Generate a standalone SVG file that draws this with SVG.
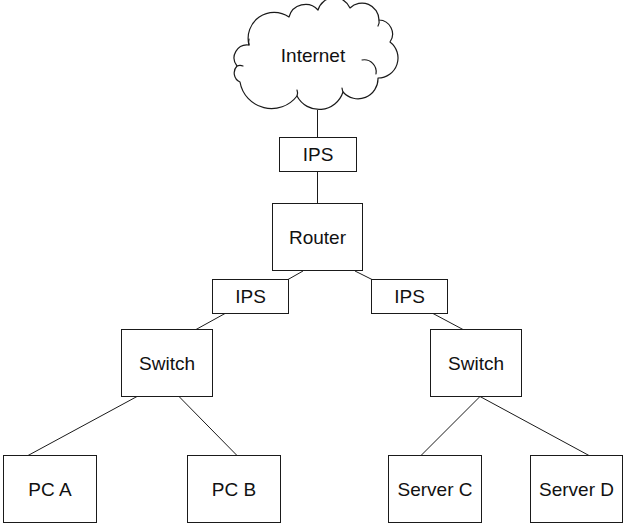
<svg xmlns="http://www.w3.org/2000/svg" width="623" height="523" viewBox="0 0 623 523">
  <style>
    .box { fill: #ffffff; stroke: #1a1a1a; stroke-width: 1; }
    .cloud { fill: #ffffff; stroke: #1a1a1a; stroke-width: 1.2; stroke-linejoin: round; }
    .curl { fill: none; stroke: #1a1a1a; stroke-width: 1.2; stroke-linecap: round; }
    .link { stroke: #1a1a1a; stroke-width: 1; fill: none; }
    .label { font-family: "Liberation Sans", Arial, sans-serif; font-size: 19px; fill: #111111; text-anchor: middle; }
  </style>
  <rect width="623" height="523" fill="#ffffff"/>

  <!-- connectors -->
  <g id="connectors">
    <line class="link" x1="317.5" y1="110" x2="317.5" y2="137.5"/>
    <line class="link" x1="317.5" y1="171.5" x2="317.5" y2="203.5"/>
    <line class="link" x1="303" y1="271" x2="288" y2="279.5"/>
    <line class="link" x1="355" y1="271" x2="372" y2="279.5"/>
    <line class="link" x1="225" y1="313.5" x2="196" y2="329.5"/>
    <line class="link" x1="433" y1="313.5" x2="463" y2="329.5"/>
    <line class="link" x1="137" y1="396.5" x2="28" y2="455.5"/>
    <line class="link" x1="179" y1="396.5" x2="237" y2="455.5"/>
    <line class="link" x1="480" y1="396.5" x2="421" y2="455.5"/>
    <line class="link" x1="480" y1="396.5" x2="589" y2="455.5"/>
  </g>

  <!-- cloud -->
  <g id="internet">
    <path class="cloud" d="M249,45 A26,26 0 0 1 289,17 A17,17 0 0 1 318,10 A17,17 0 0 1 350,8 A17,17 0 0 1 379,20 A14,14 0 0 1 390,42 A20,20 0 0 1 378,78 A20,20 0 0 1 343,92 A25,25 0 0 1 297,96 A32,32 0 0 1 240,82 A10,10 0 0 1 237,66 A13,13 0 0 1 249,45 Z"/>
    <path class="curl" d="M362,60 A12,12 0 0 1 376,74"/>
    <path class="curl" d="M343,92 A20,20 0 0 1 342,88"/>
    <path class="curl" d="M297,96 A8,8 0 0 0 297,90"/>
    <path class="curl" d="M237,66 A8,8 0 0 1 243,66"/>
    <path class="curl" d="M249,45 A12,12 0 0 1 249,39"/>
    <path class="curl" d="M379,20 A8,8 0 0 1 378,26"/>
    <text class="label" x="313" y="62">Internet</text>
  </g>

  <g id="ips-top">
    <rect class="box" x="279.5" y="137.5" width="77" height="34"/>
    <text class="label" x="318" y="161">IPS</text>
  </g>

  <g id="router">
    <rect class="box" x="272.5" y="203.5" width="90" height="67"/>
    <text class="label" x="317.5" y="244">Router</text>
  </g>

  <g id="ips-left">
    <rect class="box" x="212.5" y="279.5" width="76" height="34"/>
    <text class="label" x="250.5" y="303">IPS</text>
  </g>

  <g id="ips-right">
    <rect class="box" x="371.5" y="279.5" width="76" height="34"/>
    <text class="label" x="409.5" y="303">IPS</text>
  </g>

  <g id="switch-left">
    <rect class="box" x="121.5" y="329.5" width="91" height="67"/>
    <text class="label" x="167" y="369.5">Switch</text>
  </g>

  <g id="switch-right">
    <rect class="box" x="430.5" y="329.5" width="91" height="67"/>
    <text class="label" x="476" y="369.5">Switch</text>
  </g>

  <g id="pc-a">
    <rect class="box" x="3.5" y="455.5" width="93" height="67"/>
    <text class="label" x="50" y="495.5">PC A</text>
  </g>

  <g id="pc-b">
    <rect class="box" x="187.5" y="455.5" width="93" height="67"/>
    <text class="label" x="234" y="495.5">PC B</text>
  </g>

  <g id="server-c">
    <rect class="box" x="388.5" y="455.5" width="93" height="67"/>
    <text class="label" x="435" y="495.5">Server C</text>
  </g>

  <g id="server-d">
    <rect class="box" x="530.5" y="455.5" width="92" height="67"/>
    <text class="label" x="576.5" y="495.5">Server D</text>
  </g>
</svg>
